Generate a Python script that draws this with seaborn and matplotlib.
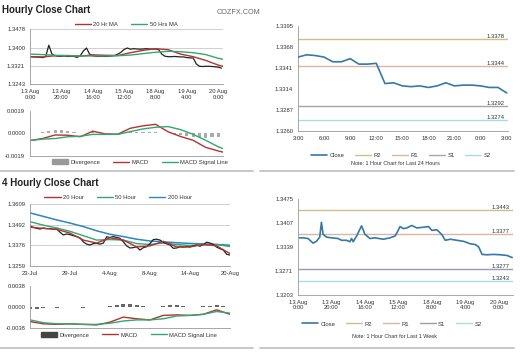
import matplotlib
matplotlib.use('Agg')
import matplotlib.pyplot as plt
from matplotlib.lines import Line2D
from matplotlib.patches import Patch
import seaborn as sns
import numpy as np

sns.set_theme(style='white')
plt.rcParams['font.family'] = ['Liberation Sans', 'DejaVu Sans']

# ---------------- data ----------------
# hourly close chart (top left), hour index, 20 h = one label step
hours_h = list(range(0, 123, 2))
close_h = [1.3361, 1.3360, 1.3360, 1.3359, 1.3357, 1.3362, 1.3410, 1.3372, 1.3365, 1.3363,
           1.3363, 1.3364, 1.3362, 1.3363, 1.3362, 1.3358, 1.3365, 1.3385, 1.3398, 1.3372,
           1.3365, 1.3363, 1.3362, 1.3363, 1.3362, 1.3363, 1.3364, 1.3366, 1.3372, 1.3380,
           1.3392, 1.3398, 1.3393, 1.3395, 1.3394, 1.3393, 1.3394, 1.3395, 1.3394, 1.3393,
           1.3394, 1.3391, 1.3372, 1.3363, 1.3361, 1.3361, 1.3362, 1.3361, 1.3360, 1.3360,
           1.3357, 1.3356, 1.3355, 1.3330, 1.3320, 1.3319, 1.3320, 1.3320, 1.3319, 1.3318,
           1.3316, 1.3312]
hours_ma = [0, 8, 16, 24, 32, 40, 48, 56, 64, 72, 80, 88, 96, 104, 112, 120, 123]
ma20_h = [1.3361, 1.3360, 1.3365, 1.3366, 1.3363, 1.3369, 1.3367, 1.3366, 1.3378, 1.3388,
          1.3395, 1.3391, 1.3372, 1.3361, 1.3345, 1.3325, 1.3320]
ma50_h = [1.3372, 1.3370, 1.3367, 1.3365, 1.3364, 1.3364, 1.3364, 1.3365, 1.3368, 1.3374,
          1.3380, 1.3384, 1.3382, 1.3378, 1.3370, 1.3354, 1.3350]
macd_h = [-0.00062, -0.00045, -0.00015, -0.00017, -0.00030, 0.00017, -0.00006, -0.00008, 0.00042,
          0.00062, 0.00075, 0.00012, -0.00028, -0.00060, -0.00120, -0.00150, -0.00160]
signal_h = [-0.00062, -0.00050, -0.00045, -0.00030, -0.00026, -0.00010, -0.00010, -0.00010, 0.00014,
            0.00036, 0.00050, 0.00056, 0.00030, -0.00010, -0.00060, -0.00115, -0.00130]
hours_div = list(range(0, 121, 4))
div_h = [0.00002, 0.00004, 0.00008, 0.00020, 0.00026, 0.00024, 0.00018, 0.00010, 0.00004, 0.00002,
         0.00008, 0.00006, 0.00002, 0.00000, 0.00002, 0.00004, 0.00008, 0.00010, 0.00012, 0.00010,
         0.00008, 0.00004, 0.00000, -0.00008, -0.00016, -0.00022, -0.00028, -0.00034, -0.00038,
         -0.00036, -0.00030]
ticks_h = ['13 Aug\n0:00', '13 Aug\n20:00', '14 Aug\n16:00', '15 Aug\n12:00',
           '18 Aug\n8:00', '19 Aug\n4:00', '20 Aug\n0:00']

# 4 hourly close chart (bottom left)
bars_4 = list(range(0, 121, 2))
close_4 = [1.3485, 1.3478, 1.3472, 1.3468, 1.3474, 1.3470, 1.3471, 1.3466, 1.3468, 1.3450,
           1.3434, 1.3440, 1.3436, 1.3430, 1.3425, 1.3418, 1.3395, 1.3382, 1.3377, 1.3385,
           1.3386, 1.3382, 1.3388, 1.3424, 1.3420, 1.3425, 1.3420, 1.3415, 1.3395, 1.3372,
           1.3360, 1.3362, 1.3367, 1.3348, 1.3362, 1.3367, 1.3385, 1.3408, 1.3410, 1.3405,
           1.3392, 1.3384, 1.3377, 1.3358, 1.3360, 1.3367, 1.3365, 1.3368, 1.3366, 1.3372,
           1.3377, 1.3370, 1.3380, 1.3393, 1.3388, 1.3381, 1.3365, 1.3356, 1.3348, 1.3324,
           1.3320]
bars_ma = list(range(0, 121, 8))
ma20_4 = [1.3478, 1.3472, 1.3466, 1.3445, 1.3405, 1.3388, 1.3418, 1.3405, 1.3366, 1.3372,
          1.3398, 1.3366, 1.3366, 1.3380, 1.3372, 1.3328]
ma50_4 = [1.3510, 1.3490, 1.3474, 1.3455, 1.3430, 1.3405, 1.3408, 1.3405, 1.3385, 1.3380,
          1.3388, 1.3380, 1.3374, 1.3378, 1.3380, 1.3368]
ma200_4 = [1.3560, 1.3540, 1.3520, 1.3502, 1.3482, 1.3458, 1.3438, 1.3425, 1.3410, 1.3400,
           1.3395, 1.3390, 1.3386, 1.3383, 1.3380, 1.3376]
macd_4 = [-0.0026, -0.0030, -0.0031, -0.0030, -0.0031, -0.0032, -0.0027, -0.0018, -0.0021,
          -0.0023, -0.0015, -0.0014, -0.0015, -0.0013, -0.0005, -0.0013]
signal_4 = [-0.0023, -0.0028, -0.0030, -0.0030, -0.0031, -0.0031, -0.0029, -0.0025, -0.0023,
            -0.0023, -0.0021, -0.0016, -0.0015, -0.0013, -0.0008, -0.0011]
bars_div = list(range(0, 121, 4))
div_4 = [-0.0003, -0.0003, -0.0001, 0, -0.0001, 0, 0, 0, -0.0001, 0, 0, 0, 0.0002, 0.0004, 0.0006,
         0.0005, 0.0003, 0.0001, 0, 0, 0.0002, 0.0003, 0.0003, 0.0001, 0, 0, 0.0001, 0.0002,
         0.0003, 0.0002, 0.0000]
ticks_4 = ['23-Jul', '29-Jul', '4-Aug', '8-Aug', '14-Aug', '20-Aug']

# last 24 hours (top right)
hours_d = list(range(25))
close_d = [1.3355, 1.3358, 1.3357, 1.3355, 1.3349, 1.3349, 1.3353, 1.3346, 1.3346, 1.3347,
           1.3321, 1.3322, 1.3318, 1.3317, 1.3318, 1.3316, 1.3318, 1.3322, 1.3318, 1.3319,
           1.3319, 1.3318, 1.3316, 1.3316, 1.3309]
levels_d = {'R2': 1.3378, 'R1': 1.3344, 'S1': 1.3292, 'S2': 1.3274}
ticks_d = ['3:00', '6:00', '9:00', '12:00', '15:00', '18:00', '21:00', '0:00', '3:00']

# last week (bottom right)
hours_w = [1, 3, 6, 9, 11, 13, 14, 15, 17, 20, 24, 26, 29, 31, 32, 33, 35, 38, 40, 43,
           46, 51, 55, 58, 59, 61, 63, 65, 68, 71, 75, 78, 80, 83, 86, 88, 91, 95, 99, 103,
           106, 108, 110, 113, 117, 121, 125, 128]
close_w = [1.3365, 1.3365, 1.3363, 1.3350, 1.3355, 1.3367, 1.3409, 1.3375, 1.3367, 1.3365,
           1.3363, 1.3358, 1.3358, 1.3354, 1.3363, 1.3354, 1.3370, 1.3399, 1.3375, 1.3363,
           1.3365, 1.3361, 1.3365, 1.3370, 1.3378, 1.3397, 1.3391, 1.3393, 1.3400, 1.3393,
           1.3395, 1.3397, 1.3386, 1.3388, 1.3374, 1.3358, 1.3361, 1.3358, 1.3355, 1.3348,
           1.3346, 1.3339, 1.3318, 1.3317, 1.3318, 1.3317, 1.3315, 1.3309]
levels_w = {'R2': 1.3443, 'R1': 1.3377, 'S1': 1.3277, 'S2': 1.3243}

# ---------------- styling ----------------
W, H = 522, 352
RED = '#b5322f'
GREEN = '#2fa872'
BLUE = '#2e86c1'
CLOSE = '#3579a6'
LEVEL_COLORS = {'R2': '#cbbf8f', 'R1': '#d8b6a6', 'S1': '#a6a6a6', 'S2': '#a9dbe3'}
LEVEL_COLORS_W = {'R2': '#cbbf8f', 'R1': '#d8b6a6', 'S1': '#9a9ab2', 'S2': '#a9dbe3'}
FS = 4.2

fig = plt.figure(figsize=(W / 100, H / 100), dpi=100)


def px_axes(l, t, r, b):
    return fig.add_axes([l / W, 1 - b / H, (r - l) / W, (b - t) / H])


def style(ax):
    for s in ['top', 'right']:
        ax.spines[s].set_visible(False)
    for s in ['left', 'bottom']:
        ax.spines[s].set_color('#999999')
        ax.spines[s].set_linewidth(0.6)
    ax.tick_params(axis='both', labelsize=FS, length=2, width=0.5, color='#999999',
                   pad=1.5, labelcolor='#333333')
    ax.set_xlabel('')
    ax.set_ylabel('')


def legend(handles, labels, cx, cy, ncol, spacing=2.2):
    fig.legend(handles, labels, loc='center', bbox_to_anchor=(cx / W, 1 - cy / H),
               ncol=ncol, frameon=False, fontsize=FS, handlelength=2.8, handletextpad=0.4,
               columnspacing=spacing, borderpad=0, labelcolor='#333333')


# titles
fig.text(2 / W, 1 - 10 / H, 'Hourly Close Chart', fontsize=7, fontweight='bold',
         va='center', ha='left', color='#222222')
fig.text(217 / W, 1 - 12 / H, 'COZFX.COM', fontsize=5.2, va='center', ha='left', color='#666666')
fig.text(2 / W, 1 - 183 / H, '4 Hourly Close Chart', fontsize=7, fontweight='bold',
         va='center', ha='left', color='#222222')

# separators
for yy in [171, 348]:
    fig.add_artist(Line2D([0, 253 / W], [1 - yy / H] * 2, color='#c4c4c4', lw=1.3))
    fig.add_artist(Line2D([260 / W, 514 / W], [1 - yy / H] * 2, color='#c4c4c4', lw=1.3))

# ---- hourly price ----
ax = px_axes(30, 29.3, 223, 84.3)
for v in [1.3478, 1.3400, 1.3321]:
    ax.axhline(v, color='#c8c8c8', lw=0.6, zorder=0)
sns.lineplot(x=hours_h, y=close_h, ax=ax, color='#222222', lw=0.9)
sns.lineplot(x=hours_ma, y=ma20_h, ax=ax, color=RED, lw=1.0)
sns.lineplot(x=hours_ma, y=ma50_h, ax=ax, color=GREEN, lw=1.0)
ax.set_xlim(0, 123)
ax.set_ylim(1.3243, 1.3478)
ax.set_yticks([1.3478, 1.3400, 1.3321, 1.3243])
ax.set_yticklabels(['1.3478', '1.3400', '1.3321', '1.3243'])
ax.set_xticks(range(0, 121, 20))
ax.set_xticklabels(ticks_h, linespacing=1.1)
style(ax)
legend([Line2D([], [], color=RED, lw=1), Line2D([], [], color=GREEN, lw=1)],
       ['20 Hr MA', '50 Hrs MA'], 126, 24, 2)

# ---- hourly MACD ----
ax = px_axes(30, 110.7, 223, 155.7)
ax.bar(hours_div, div_h, width=2.0, color='#aaaaaa', linewidth=0, zorder=1)
sns.lineplot(x=hours_ma, y=macd_h, ax=ax, color=RED, lw=1.0)
sns.lineplot(x=hours_ma, y=signal_h, ax=ax, color=GREEN, lw=1.0)
ax.set_xlim(0, 123)
ax.set_ylim(-0.0019, 0.0019)
ax.set_yticks([0.0019, 0.0, -0.0019])
ax.set_yticklabels(['0.0019', '0.0000', '-0.0019'])
ax.set_xticks(range(0, 121, 20))
ax.set_xticklabels([])
style(ax)
legend([Patch(color='#9a9a9a'), Line2D([], [], color=RED, lw=1), Line2D([], [], color=GREEN, lw=1)],
       ['Divergence', 'MACD', 'MACD Signal Line'], 140, 162, 3)

# ---- 4 hourly price ----
ax = px_axes(30, 204.3, 230, 265.7)
for v in [1.3609, 1.3492, 1.3376]:
    ax.axhline(v, color='#c8c8c8', lw=0.6, zorder=0)
sns.lineplot(x=bars_ma, y=ma200_4, ax=ax, color=BLUE, lw=1.1)
sns.lineplot(x=bars_ma, y=ma50_4, ax=ax, color=GREEN, lw=1.0)
sns.lineplot(x=bars_4, y=close_4, ax=ax, color='#222222', lw=0.9)
sns.lineplot(x=bars_ma, y=ma20_4, ax=ax, color=RED, lw=1.0)
ax.set_xlim(0, 120)
ax.set_ylim(1.3259, 1.3609)
ax.set_yticks([1.3609, 1.3492, 1.3376, 1.3259])
ax.set_yticklabels(['1.3609', '1.3492', '1.3376', '1.3259'])
ax.set_xticks(range(0, 121, 24))
ax.set_xticklabels(ticks_4)
style(ax)
legend([Line2D([], [], color=RED, lw=1), Line2D([], [], color=GREEN, lw=1),
        Line2D([], [], color=BLUE, lw=1)],
       ['20 Hour', '50 Hour', '200 Hour'], 118, 197, 3)

# ---- 4 hourly MACD ----
ax = px_axes(30, 285.7, 230, 328.3)
ax.bar(bars_div, div_4, width=2.5, color='#666666', linewidth=0, zorder=1)
sns.lineplot(x=bars_ma, y=macd_4, ax=ax, color=RED, lw=1.0)
sns.lineplot(x=bars_ma, y=signal_4, ax=ax, color=GREEN, lw=1.0)
ax.set_xlim(0, 120)
ax.set_ylim(-0.0038, 0.0038)
ax.set_yticks([0.0038, 0.0, -0.0038])
ax.set_yticklabels(['0.0038', '0.0000', '-0.0038'])
ax.set_xticks(range(0, 121, 24))
ax.set_xticklabels([])
style(ax)
legend([Patch(color='#444444'), Line2D([], [], color=RED, lw=1), Line2D([], [], color=GREEN, lw=1)],
       ['Divergence', 'MACD', 'MACD Signal Line'], 129, 335, 3)


def level_panel(ax, hours, close, levels, colors, xmax):
    for name, v in levels.items():
        ax.axhline(v, color=colors[name], lw=1.0, zorder=1)
        ax.text(xmax * 0.985, v, '%.4f' % v, ha='right', va='bottom', fontsize=FS,
                color='#333333')
    sns.lineplot(x=hours, y=close, ax=ax, color=CLOSE, lw=1.2, zorder=3)
    ax.set_xlim(0, xmax)


# ---- last 24 hours ----
ax = px_axes(298, 26, 508, 131)
level_panel(ax, hours_d, close_d, levels_d, LEVEL_COLORS, 24.15)
ax.set_ylim(1.3260, 1.3395)
ax.set_yticks([1.3395, 1.3368, 1.3341, 1.3314, 1.3287, 1.3260])
ax.set_yticklabels(['1.3395', '1.3368', '1.3341', '1.3314', '1.3287', '1.3260'])
ax.set_xticks(range(0, 25, 3))
ax.set_xticklabels(ticks_d)
style(ax)
lv_handles = [Line2D([], [], color=CLOSE, lw=1.2)] + \
    [Line2D([], [], color=LEVEL_COLORS[k], lw=1) for k in levels_d]
legend(lv_handles, ['Close', 'R2', 'R1', 'S1', 'S2'], 401, 155, 5, spacing=1.8)
fig.text(395 / W, 1 - 164 / H, 'Note: 1 Hour Chart for Last 24 Hours', fontsize=FS - 0.3,
         ha='center', va='center', color='#333333')

# ---- last week ----
ax = px_axes(298, 199, 513, 295)
level_panel(ax, hours_w, close_w, levels_w, LEVEL_COLORS_W, 128.5)
ax.set_ylim(1.3203, 1.3475)
ax.set_yticks([1.3475, 1.3407, 1.3339, 1.3271, 1.3203])
ax.set_yticklabels(['1.3475', '1.3407', '1.3339', '1.3271', '1.3203'])
ax.set_xticks(range(0, 121, 20))
ax.set_xticklabels(ticks_h, linespacing=1.1)
style(ax)
lw_handles = [Line2D([], [], color=CLOSE, lw=1.2)] + \
    [Line2D([], [], color=LEVEL_COLORS_W[k], lw=1) for k in levels_w]
legend(lw_handles, ['Close', 'R2', 'R1', 'S1', 'S2'], 392, 324, 5, spacing=1.8)
fig.text(395 / W, 1 - 336 / H, 'Note: 1 Hour Chart for Last 1 Week', fontsize=FS - 0.3,
         ha='center', va='center', color='#333333')

plt.savefig('out.png', dpi=100)
